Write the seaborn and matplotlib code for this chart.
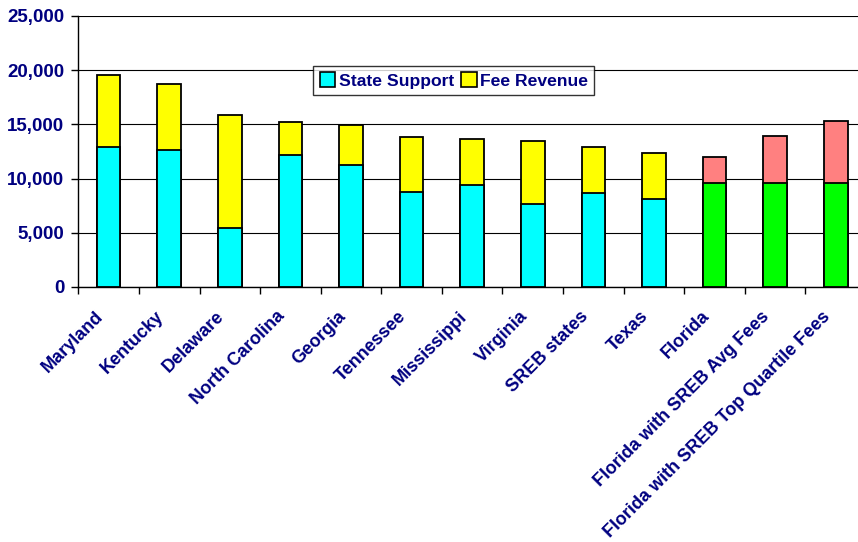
import matplotlib
matplotlib.use("Agg")
import matplotlib.pyplot as plt
from matplotlib.patches import Patch
from matplotlib.ticker import FuncFormatter, MultipleLocator, FixedLocator
from matplotlib.transforms import ScaledTranslation
import seaborn as sns
import pandas as pd
import numpy as np

categories = ["Maryland", "Kentucky", "Delaware", "North Carolina", "Georgia",
              "Tennessee", "Mississippi", "Virginia", "SREB states", "Texas",
              "Florida", "Florida with SREB Avg Fees",
              "Florida with SREB Top Quartile Fees"]
state_support = [12900, 12600, 5450, 12200, 11250, 8750, 9400, 7650, 8650, 8100,
                 9600, 9600, 9600]
fee_revenue = [6700, 6150, 10450, 3000, 3650, 5100, 4250, 5800, 4250, 4250,
               2350, 4300, 5750]
scenario = ["state"] * 10 + ["florida"] * 3

df = pd.DataFrame({
    "category": categories,
    "support": state_support,
    "fees": fee_revenue,
    "group": scenario,
})
df["total"] = df["support"] + df["fees"]

sns.set_theme(style="white")
plt.rcParams["font.family"] = ["Liberation Sans", "DejaVu Sans"]
navy = "#000080"

fig = plt.figure(figsize=(8.58, 5.42), dpi=100)
ax = fig.add_axes([0.0913, 0.4705, 0.918, 0.5])

bar_w = 0.39
edge = dict(edgecolor="black", linewidth=1.3)
sns.barplot(data=df, x="category", y="total", hue="group", dodge=False,
            palette={"state": "#FFFF00", "florida": "#FF8080"}, saturation=1,
            width=bar_w, legend=False, ax=ax, zorder=3, **edge)
sns.barplot(data=df, x="category", y="support", hue="group", dodge=False,
            palette={"state": "#00FFFF", "florida": "#00FF00"}, saturation=1,
            width=bar_w, legend=False, ax=ax, zorder=3, **edge)

ax.set_xlim(-0.5, len(categories) - 0.5)
ax.set_ylim(0, 25000)
ax.yaxis.set_major_locator(MultipleLocator(5000))
ax.yaxis.set_major_formatter(FuncFormatter(lambda v, p: f"{int(v):,}"))
ax.grid(axis="y", color="black", linewidth=0.8, zorder=0)
ax.set_axisbelow(True)
ax.set_xlabel("")
ax.set_ylabel("")

for side in ["top", "right"]:
    ax.spines[side].set_visible(False)
for side in ["left", "bottom"]:
    ax.spines[side].set_color("black")
    ax.spines[side].set_linewidth(1.0)

ax.tick_params(axis="y", which="major", direction="out", length=5, width=1,
               color="black", labelsize=13.5, labelcolor=navy, pad=5, left=True)
for t in ax.get_yticklabels():
    t.set_fontweight("bold")

ax.set_xticks(range(len(categories)))
ax.set_xticklabels(categories, rotation=45, ha="right", rotation_mode="anchor",
                   fontsize=13, fontweight="bold", color=navy)
ax.tick_params(axis="x", which="major", length=0, pad=15)
shift = ScaledTranslation(-10 / 72, 0, fig.dpi_scale_trans)
for t in ax.get_xticklabels():
    t.set_transform(t.get_transform() + shift)
ax.xaxis.set_minor_locator(FixedLocator(np.arange(-0.5, len(categories), 1.0)))
ax.tick_params(axis="x", which="minor", direction="out", length=5, width=1,
               color="black", bottom=True)

handles = [Patch(facecolor="#00FFFF", edgecolor="black", linewidth=1.2,
                 label="State Support"),
           Patch(facecolor="#FFFF00", edgecolor="black", linewidth=1.2,
                 label="Fee Revenue")]
leg = ax.legend(handles=handles, loc="upper left", bbox_to_anchor=(0.2985, 0.815),
                ncol=2, frameon=True, fancybox=False, shadow=False,
                handlelength=0.9, handleheight=0.9, handletextpad=0.2,
                columnspacing=0.4, borderpad=0.35, borderaxespad=0,
                prop={"weight": "bold", "size": 12.6})
leg.get_frame().set_edgecolor("black")
leg.get_frame().set_linewidth(1.0)
for t in leg.get_texts():
    t.set_color(navy)

fig.savefig("out.png", dpi=100, facecolor="white")
